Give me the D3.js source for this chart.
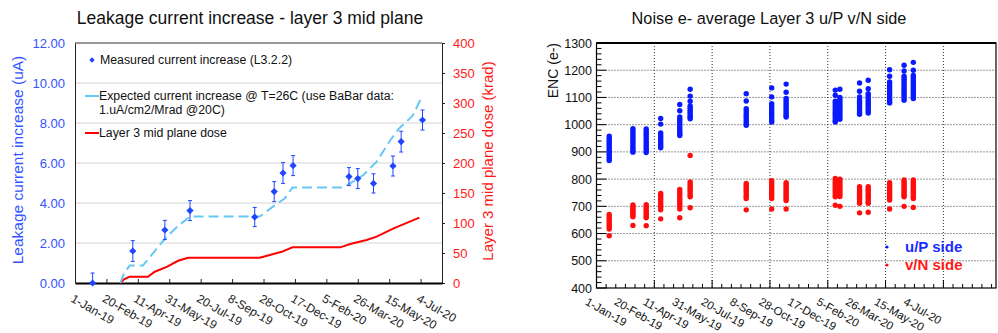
<!DOCTYPE html>
<html>
<head>
<meta charset="utf-8">
<script src="https://cdn.jsdelivr.net/npm/d3@7"></script>
<style>
  body { margin: 0; background: #fff; }
  svg { display: block; font-family: "Liberation Sans", Arial, Helvetica, sans-serif; }
</style>
</head>
<body>
<svg id="chart" width="998" height="333"></svg>
<script>
const parse = d3.utcParse("%Y-%m-%d");
const fmt = d3.utcFormat("%-d-%b-%y");

// ---- left chart: leakage current ----
const measDates = ["2019-01-29", "2019-04-03", "2019-05-24", "2019-07-03", "2019-10-14", "2019-11-14",
  "2019-11-28", "2019-12-14", "2020-03-12", "2020-03-26", "2020-04-20", "2020-05-21", "2020-06-03", "2020-07-07"];
const measValues = [0.0, 1.6, 2.65, 3.62, 3.3, 4.57, 5.5, 5.87, 5.32, 5.22, 4.98, 5.85, 7.07, 8.15];
const measErr = [0.5, 0.52, 0.48, 0.5, 0.48, 0.5, 0.52, 0.5, 0.45, 0.5, 0.48, 0.5, 0.52, 0.5];

const expDates = ["2019-03-14", "2019-03-20", "2019-03-29", "2019-04-19", "2019-05-05", "2019-05-27",
  "2019-06-14", "2019-07-03", "2019-10-22", "2019-11-12", "2019-12-01", "2019-12-13", "2020-03-03",
  "2020-04-04", "2020-04-25", "2020-05-17", "2020-05-30", "2020-06-21", "2020-07-04"];
const expValues = [0.0, 0.48, 0.87, 0.87, 1.48, 2.32, 2.85, 3.32, 3.32, 3.82, 4.23, 4.77, 4.77,
  5.4, 6.07, 7.15, 7.7, 8.35, 9.18];

const doseDates = ["2019-03-14", "2019-03-20", "2019-03-29", "2019-04-27", "2019-05-08", "2019-05-27",
  "2019-06-14", "2019-06-30", "2019-10-22", "2019-11-07", "2019-11-26", "2019-12-13", "2020-02-27",
  "2020-03-14", "2020-04-09", "2020-04-25", "2020-05-22", "2020-07-02"];
const doseValues = [0, 6, 10.5, 10.5, 18.8, 27, 37, 42.2, 42.2, 46.7, 52, 59.4, 59.4, 65, 71.7, 77.2, 91, 108.9];

const dateTicks = ["2019-01-01", "2019-02-20", "2019-04-11", "2019-05-31", "2019-07-20", "2019-09-08",
  "2019-10-28", "2019-12-17", "2020-02-05", "2020-03-26", "2020-05-15", "2020-07-04"];
const leakTicks = [0, 2, 4, 6, 8, 10, 12];
const doseTicks = [0, 50, 100, 150, 200, 250, 300, 350, 400];

// ---- right chart: noise ----
const noiseDates = ["2019-01-23", "2019-03-05", "2019-03-28", "2019-04-22", "2019-05-25", "2019-06-12",
  "2019-09-17", "2019-10-31", "2019-11-25", "2020-02-18", "2020-02-26", "2020-03-31", "2020-04-15",
  "2020-05-22", "2020-06-16", "2020-07-02"];
const uSide = [
  [958, 950, 942, 935, 927, 920, 912, 905, 897, 890, 882, 875, 868],
  [985, 977, 969, 961, 953, 945, 937, 929, 921, 913, 905, 899],
  [984, 976, 968, 960, 952, 944, 936, 928, 920, 912, 904, 898],
  [1023, 1002, 970, 962, 955, 948, 941, 934, 927, 920, 915],
  [1074, 1051, 1028, 1020, 1012, 1004, 996, 988, 980, 972, 965, 960],
  [1130, 1105, 1086, 1069, 1062, 1055, 1048, 1041, 1034, 1027, 1022],
  [1114, 1087, 1059, 1051, 1043, 1035, 1027, 1019, 1011, 1004, 998],
  [1135, 1102, 1077, 1069, 1061, 1053, 1045, 1037, 1029, 1021, 1014, 1010],
  [1149, 1119, 1096, 1088, 1080, 1072, 1064, 1056, 1048, 1040, 1033, 1028],
  [1127, 1108, 1086, 1078, 1070, 1062, 1054, 1046, 1038, 1030, 1022, 1015, 1010],
  [1130, 1100, 1092, 1084, 1076, 1068, 1060, 1052, 1044, 1036, 1028, 1020],
  [1153, 1123, 1102, 1094, 1086, 1078, 1070, 1062, 1054, 1046, 1038],
  [1163, 1132, 1114, 1106, 1098, 1090, 1082, 1074, 1066, 1058, 1050, 1043],
  [1202, 1178, 1157, 1149, 1141, 1133, 1125, 1117, 1109, 1101, 1093, 1085, 1080],
  [1218, 1197, 1178, 1170, 1162, 1154, 1146, 1138, 1130, 1122, 1114, 1106, 1098, 1090],
  [1229, 1200, 1181, 1173, 1165, 1157, 1149, 1141, 1133, 1125, 1117, 1109, 1101, 1096]
];
const vSide = [
  [670, 662, 655, 648, 640, 632, 625, 617, 592],
  [705, 698, 692, 686, 680, 674, 668, 662, 630],
  [706, 699, 692, 685, 678, 671, 664, 658, 629],
  [747, 740, 732, 725, 717, 710, 702, 695, 687, 654],
  [762, 753, 744, 735, 726, 717, 708, 699, 690, 658],
  [887, 790, 782, 774, 766, 758, 750, 742, 735, 695],
  [784, 777, 770, 763, 756, 749, 742, 735, 729, 687],
  [794, 786, 779, 772, 765, 758, 751, 744, 737, 729, 690],
  [787, 780, 773, 766, 758, 750, 743, 736, 728, 721, 690],
  [802, 795, 788, 780, 772, 765, 758, 750, 742, 735, 704],
  [800, 792, 784, 776, 768, 760, 752, 744, 736, 700],
  [772, 765, 758, 751, 744, 737, 730, 723, 716, 711, 676],
  [772, 765, 758, 750, 742, 735, 727, 719, 711, 678],
  [787, 780, 773, 766, 759, 752, 745, 738, 731, 723, 690],
  [797, 790, 783, 776, 769, 762, 755, 748, 741, 735, 700],
  [797, 789, 781, 773, 766, 759, 752, 745, 737, 729, 696]
];
const noiseGrid = ["2019-04-11", "2019-07-20", "2019-10-28", "2020-02-05", "2020-05-15", "2020-08-23"];
const encTicks = [400, 500, 600, 700, 800, 900, 1000, 1100, 1200, 1300];

const svg = d3.select("#chart");
const BLUE = "#1f45ff";
const RED = "#ff1a1a";

// ================= LEFT CHART =================
const L = svg.append("g");
const xL = d3.scaleUtc().domain([parse("2019-01-01"), parse("2020-08-07")]).range([75, 442]);
const yL = d3.scaleLinear().domain([0, 12]).range([283, 43]);
const yD = d3.scaleLinear().domain([0, 400]).range([283, 43]);

L.append("text")
  .attr("x", 250).attr("y", 24)
  .attr("text-anchor", "middle")
  .attr("font-size", "17.5px")
  .attr("fill", "#111")
  .text("Leakage current increase - layer 3 mid plane");

// gridlines
L.selectAll(".grid")
  .data(leakTicks.filter(d => d > 0 && d < 12))
  .enter().append("line")
  .attr("x1", 75).attr("x2", 442)
  .attr("y1", d => yL(d)).attr("y2", d => yL(d))
  .attr("stroke", "#d4d4d4").attr("stroke-width", 1);

// frame top
L.append("line").attr("x1", 75).attr("x2", 442).attr("y1", 43).attr("y2", 43)
  .attr("stroke", "#333").attr("stroke-width", 1);

// left axis
const axL = L.append("g").attr("transform", "translate(75,0)")
  .call(d3.axisLeft(yL).tickValues(leakTicks).tickFormat(d3.format(".2f")).tickSize(0).tickPadding(10));
axL.select(".domain").attr("stroke", "#222");
axL.selectAll("text").attr("fill", "#3355ff").attr("font-size", "13px")
  .attr("font-family", "Liberation Sans, Arial, sans-serif");

// right dose axis
const axR = L.append("g").attr("transform", "translate(442,0)")
  .call(d3.axisRight(yD).tickValues(doseTicks).tickSize(3).tickPadding(8));
axR.select(".domain").attr("stroke", "#222");
axR.selectAll("line").attr("stroke", "#222");
axR.selectAll("text").attr("fill", RED).attr("font-size", "13px")
  .attr("font-family", "Liberation Sans, Arial, sans-serif");

// bottom axis
const axB = L.append("g").attr("transform", "translate(0,283)")
  .call(d3.axisBottom(xL).tickValues(dateTicks.map(parse)).tickSizeInner(-4).tickSizeOuter(0).tickFormat(""));
axB.select(".domain").attr("stroke", "#000").attr("stroke-width", 2);
axB.selectAll("line").attr("stroke", "#222");

L.selectAll(".xlab")
  .data(dateTicks)
  .enter().append("text")
  .attr("class", "xlab")
  .attr("transform", d => `translate(${xL(parse(d)) - 5},301) rotate(30)`)
  .attr("font-size", "12px")
  .attr("fill", "#222")
  .text(d => fmt(parse(d)));

// axis titles
L.append("text")
  .attr("transform", "translate(23,160) rotate(-90)")
  .attr("text-anchor", "middle")
  .attr("font-size", "15.5px")
  .attr("fill", "#3355ff")
  .text("Leakage current increase (uA)");
L.append("text")
  .attr("transform", "translate(493,161) rotate(-90)")
  .attr("text-anchor", "middle")
  .attr("font-size", "15px")
  .attr("fill", RED)
  .text("Layer 3 mid plane dose (krad)");

// dose line
const doseLine = d3.line().x(d => xL(d[0])).y(d => yD(d[1]));
L.append("path")
  .datum(doseDates.map((d, i) => [parse(d), doseValues[i]]))
  .attr("d", doseLine)
  .attr("fill", "none").attr("stroke", "#ff0000").attr("stroke-width", 2);

// expected current line
const expLine = d3.line().x(d => xL(d[0])).y(d => yL(d[1]));
L.append("path")
  .datum(expDates.map((d, i) => [parse(d), expValues[i]]))
  .attr("d", expLine)
  .attr("fill", "none").attr("stroke", "#66c8f5").attr("stroke-width", 2)
  .attr("stroke-dasharray", "10,5");

// measured points with error bars
const meas = measDates.map((d, i) => ({ date: parse(d), v: measValues[i], e: measErr[i] }));
const pts = L.selectAll(".pt").data(meas).enter().append("g").attr("class", "pt");
pts.append("line")
  .attr("x1", d => xL(d.date)).attr("x2", d => xL(d.date))
  .attr("y1", d => yL(Math.max(0, d.v - d.e))).attr("y2", d => yL(d.v + d.e))
  .attr("stroke", BLUE).attr("stroke-width", 1);
pts.append("line")
  .attr("x1", d => xL(d.date) - 2).attr("x2", d => xL(d.date) + 2)
  .attr("y1", d => yL(d.v + d.e)).attr("y2", d => yL(d.v + d.e))
  .attr("stroke", BLUE).attr("stroke-width", 1);
pts.filter(d => d.v - d.e > 0).append("line")
  .attr("x1", d => xL(d.date) - 2).attr("x2", d => xL(d.date) + 2)
  .attr("y1", d => yL(d.v - d.e)).attr("y2", d => yL(d.v - d.e))
  .attr("stroke", BLUE).attr("stroke-width", 1);
pts.append("path")
  .attr("d", d3.symbol(d3.symbolSquare, 26))
  .attr("transform", d => `translate(${xL(d.date)},${yL(d.v)}) rotate(45)`)
  .attr("fill", BLUE);

// legend
const lg = L.append("g").attr("font-size", "12.3px").attr("fill", "#111");
lg.append("path").attr("d", d3.symbol(d3.symbolSquare, 14))
  .attr("transform", "translate(92,60) rotate(45)").attr("fill", BLUE);
lg.append("text").attr("x", 100).attr("y", 64).text("Measured current increase (L3.2.2)");
lg.append("line").attr("x1", 85).attr("x2", 99).attr("y1", 96).attr("y2", 96)
  .attr("stroke", "#66c8f5").attr("stroke-width", 2);
lg.append("text").attr("x", 99).attr("y", 100).text("Expected current increase @ T=26C (use BaBar data:");
lg.append("text").attr("x", 99).attr("y", 114).text("1.uA/cm2/Mrad @20C)");
lg.append("line").attr("x1", 85).attr("x2", 99).attr("y1", 133).attr("y2", 133)
  .attr("stroke", "#ff0000").attr("stroke-width", 2);
lg.append("text").attr("x", 99).attr("y", 137).text("Layer 3 mid plane dose");

// ================= RIGHT CHART =================
const R = svg.append("g");
const t0 = parse("2019-01-01");
const xN = d3.scaleUtc().domain([t0, d3.utcDay.offset(t0, 691)]).range([596.5, 996]);
const yN = d3.scaleLinear().domain([400, 1300]).range([288, 43]);

R.append("text")
  .attr("x", 769).attr("y", 24)
  .attr("text-anchor", "middle")
  .attr("font-size", "16.3px")
  .attr("fill", "#111")
  .text("Noise e- average Layer 3 u/P v/N side");

// dotted grids
R.selectAll(".hg").data(encTicks.slice(1, -1)).enter().append("line")
  .attr("x1", 596.5).attr("x2", 996)
  .attr("y1", d => yN(d)).attr("y2", d => yN(d))
  .attr("stroke", "#333").attr("stroke-width", 1).attr("stroke-dasharray", "1,2");
R.selectAll(".vg").data(noiseGrid).enter().append("line")
  .attr("x1", d => xN(parse(d))).attr("x2", d => xN(parse(d)))
  .attr("y1", 43).attr("y2", 288)
  .attr("stroke", "#333").attr("stroke-width", 1).attr("stroke-dasharray", "1,2");

// frame
R.append("rect").attr("x", 596.5).attr("y", 43).attr("width", 399.5).attr("height", 245)
  .attr("fill", "none").attr("stroke", "#000").attr("stroke-width", 1.2);
R.append("line").attr("x1", 596.5).attr("x2", 996).attr("y1", 43).attr("y2", 43)
  .attr("stroke", "#000").attr("stroke-width", 2);

// y axis with minor ticks
const yMinor = d3.range(400, 1301, 20);
R.selectAll(".ymt").data(yMinor).enter().append("line")
  .attr("x1", 596.5).attr("x2", d => 596.5 + (d % 100 === 0 ? 10 : 5))
  .attr("y1", d => yN(d)).attr("y2", d => yN(d))
  .attr("stroke", "#000").attr("stroke-width", 1);
R.selectAll(".ylab").data(encTicks).enter().append("text")
  .attr("x", 592).attr("y", d => yN(d) + 4.5)
  .attr("text-anchor", "end")
  .attr("font-size", "12.5px")
  .attr("fill", "#111")
  .text(d => d);

// x axis ticks
const xMinor = d3.range(0, 42).map(i => d3.utcHour.offset(t0, i * 400));
R.selectAll(".xmt").data(xMinor).enter().append("line")
  .attr("x1", d => xN(d)).attr("x2", d => xN(d))
  .attr("y1", 288).attr("y2", (d, i) => 288 - (i % 6 === 0 ? 8 : 4))
  .attr("stroke", "#000").attr("stroke-width", 1);
R.selectAll(".nxlab").data(dateTicks).enter().append("text")
  .attr("transform", d => `translate(${xN(parse(d)) - 12},304) rotate(30)`)
  .attr("font-size", "11.5px")
  .attr("fill", "#111")
  .text(d => fmt(parse(d)));

R.append("text")
  .attr("transform", "translate(558,43) rotate(-90)")
  .attr("text-anchor", "end")
  .attr("font-size", "14px")
  .attr("fill", "#111")
  .text("ENC (e-)");

// points
const uPts = noiseDates.flatMap((d, i) => uSide[i].map(v => ({ date: parse(d), v })));
const vPts = noiseDates.flatMap((d, i) => vSide[i].map(v => ({ date: parse(d), v })));
R.selectAll(".u").data(uPts).enter().append("circle")
  .attr("cx", d => xN(d.date)).attr("cy", d => yN(d.v)).attr("r", 2.7)
  .attr("fill", "#0a1aff");
R.selectAll(".v").data(vPts).enter().append("circle")
  .attr("cx", d => xN(d.date)).attr("cy", d => yN(d.v)).attr("r", 2.7)
  .attr("fill", "#ff0d0d");

// legend
R.append("circle").attr("cx", 887).attr("cy", 247).attr("r", 1.6).attr("fill", "#0a1aff");
R.append("text").attr("x", 905).attr("y", 252).attr("font-size", "15px").attr("font-weight", "bold")
  .attr("fill", "#1a2cff").text("u/P side");
R.append("circle").attr("cx", 887).attr("cy", 265).attr("r", 1.6).attr("fill", "#ff0d0d");
R.append("text").attr("x", 905).attr("y", 270).attr("font-size", "15px").attr("font-weight", "bold")
  .attr("fill", "#ff1a1a").text("v/N side");
</script>
</body>
</html>
